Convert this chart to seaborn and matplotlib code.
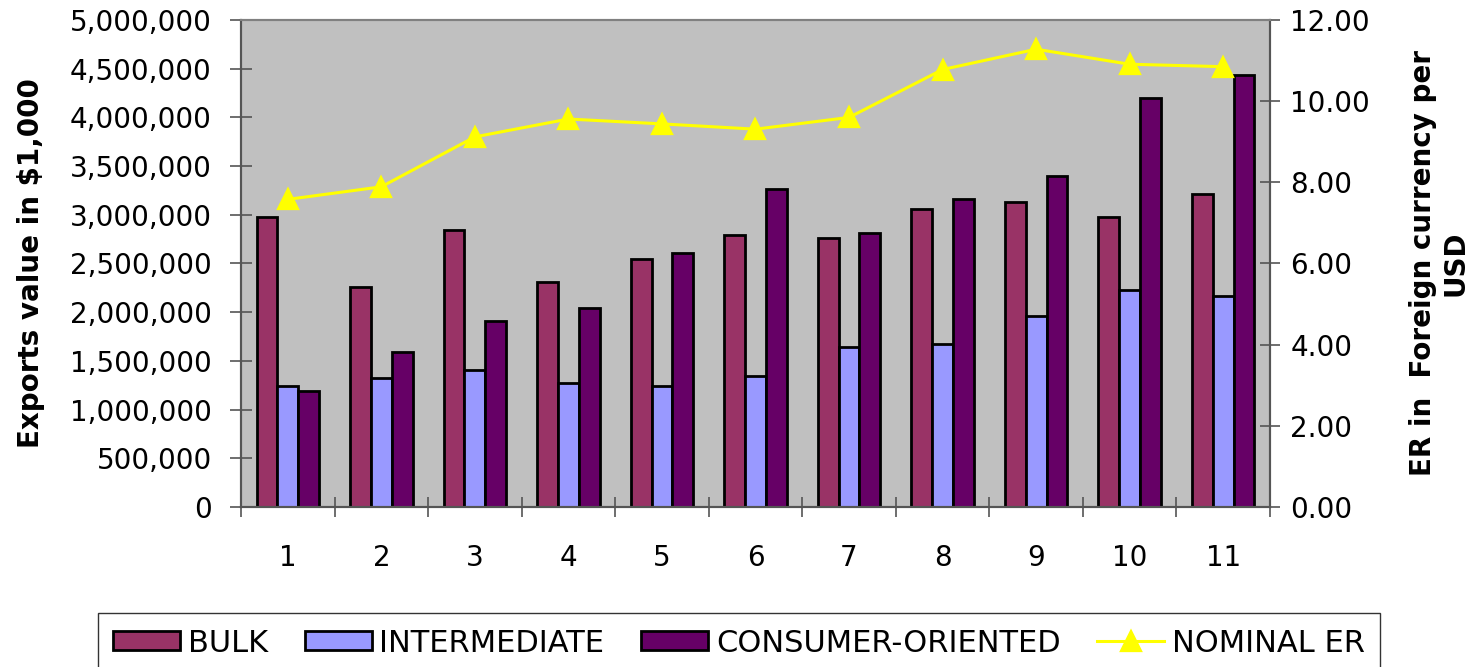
import pandas as pd
import matplotlib
matplotlib.use('Agg')
import matplotlib.pyplot as plt
from matplotlib.ticker import FuncFormatter, MultipleLocator, FixedLocator
import seaborn as sns

plt.rcParams['font.family'] = ['DejaVu Sans']

periods = ['1', '2', '3', '4', '5', '6', '7', '8', '9', '10', '11']
bulk = [2973000, 2257000, 2842000, 2308000, 2551000, 2788000, 2760000, 3055000, 3134000, 2973000, 3212000]
intermediate = [1243000, 1325000, 1408000, 1274000, 1243000, 1346000, 1644000, 1671000, 1966000, 2226000, 2171000]
consumer = [1195000, 1596000, 1911000, 2048000, 2603000, 3264000, 2818000, 3161000, 3401000, 4195000, 4435000]
nominal_er = [7.58, 7.89, 9.12, 9.56, 9.44, 9.31, 9.60, 10.78, 11.28, 10.91, 10.85]

groups = ['BULK', 'INTERMEDIATE', 'CONSUMER-ORIENTED']
colors = {'BULK': '#993366', 'INTERMEDIATE': '#9999FF', 'CONSUMER-ORIENTED': '#660066'}

df = pd.DataFrame({
    'period': periods * 3,
    'value': bulk + intermediate + consumer,
    'group': [g for g in groups for _ in periods],
})

fig = plt.figure(figsize=(14.78, 6.67), dpi=100)
ax = fig.add_axes([241 / 1478, 1 - 507 / 667, (1270 - 241) / 1478, (507 - 20) / 667])
ax.set_facecolor('#C0C0C0')

sns.barplot(data=df, x='period', y='value', hue='group', hue_order=groups, order=periods,
            palette=colors, saturation=1, width=0.667, edgecolor='black', linewidth=2,
            errorbar=None, ax=ax)
bar_handles, bar_labels = ax.get_legend_handles_labels()
if ax.legend_ is not None:
    ax.legend_.remove()

ax2 = ax.twinx()
sns.pointplot(x=periods, y=nominal_er, order=periods, color='#FFFF00', markers='^',
              linestyles='-', markersize=14, linewidth=2.2, errorbar=None,
              label='NOMINAL ER', ax=ax2)
line_handles, line_labels = ax2.get_legend_handles_labels()
if ax2.legend_ is not None:
    ax2.legend_.remove()

for a in (ax, ax2):
    a.set_xlim(-0.5, len(periods) - 0.5)
    for side in ('left', 'right', 'bottom'):
        a.spines[side].set_color('#555555')
        a.spines[side].set_linewidth(1.5)
    a.spines['top'].set_color('#808080')
    a.spines['top'].set_linewidth(1.5)

ax.set_ylim(0, 5000000)
ax.yaxis.set_major_locator(MultipleLocator(500000))
ax.yaxis.set_major_formatter(FuncFormatter(lambda v, p: f'{int(v):,}'))
ax.tick_params(axis='y', direction='inout', length=16, width=1.2, color='#555555',
               labelsize=20, pad=13)
ax.set_ylabel('Exports value in $1,000', fontsize=20, fontweight='bold', labelpad=18)

ax2.set_ylim(0, 12)
ax2.yaxis.set_major_locator(MultipleLocator(2))
ax2.yaxis.set_major_formatter(FuncFormatter(lambda v, p: f'{v:.2f}'))
ax2.tick_params(axis='y', direction='inout', length=15, width=1.2, color='#555555',
                labelsize=20, pad=7)
ax2.set_ylabel('ER in  Foreign currency per\nUSD', fontsize=20, fontweight='bold',
               labelpad=28, multialignment='center')

ax.set_xlabel('')
ax2.set_xlabel('')
ax.tick_params(axis='x', which='major', length=0, labelsize=20, pad=27)
ax.xaxis.set_minor_locator(FixedLocator([i - 0.5 for i in range(len(periods) + 1)]))
ax.tick_params(axis='x', which='minor', direction='inout', length=15, width=1.2, color='#555555')
ax2.tick_params(axis='x', which='both', length=0, labelbottom=False)

fig.legend(bar_handles + line_handles, bar_labels + line_labels, loc='center',
           bbox_to_anchor=(739 / 1478, 1 - 643 / 667), ncol=4, fontsize=22,
           frameon=True, fancybox=False, edgecolor='#333333', framealpha=1,
           handlelength=2.2, handleheight=0.6, handletextpad=0.25,
           columnspacing=1.2, borderpad=0.5, borderaxespad=0)

fig.savefig('out.png', dpi=100, facecolor='white')
